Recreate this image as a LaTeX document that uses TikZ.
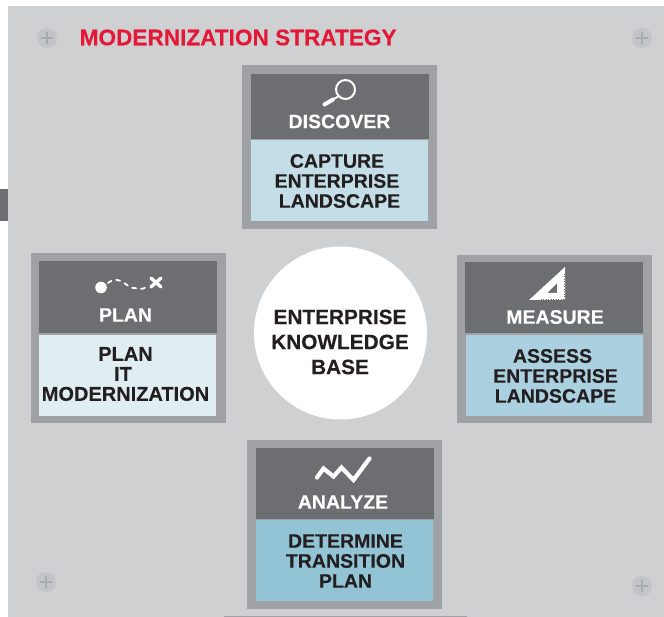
\documentclass[tikz,border=0pt]{standalone}
\usepackage{fontspec}
\setmainfont{Liberation Sans}[BoldFeatures={FakeBold=0.25}]
\definecolor{panelgray}{HTML}{CFD0D2}
\definecolor{framegray}{HTML}{A0A1A5}
\definecolor{headgray}{HTML}{6D6E71}
\definecolor{screwgray}{HTML}{C2C4C8}
\definecolor{plusgray}{HTML}{A5ABB3}
\definecolor{titlered}{HTML}{E31837}
\definecolor{inkblack}{HTML}{231F20}
\definecolor{discoverblue}{HTML}{C3DEE7}
\definecolor{planblue}{HTML}{E0EEF2}
\definecolor{measureblue}{HTML}{ABD0DF}
\definecolor{analyzeblue}{HTML}{92C4D6}
\tikzset{
  cardframe/.style={fill=framegray, anchor=north west, inner sep=0, minimum width=195pt},
  cardhead/.style={fill=headgray, anchor=north west, inner sep=0, minimum width=178pt},
  cardbody/.style={anchor=north west, inner sep=0, minimum width=177pt, minimum height=81pt},
  headlabel/.style={text=white, inner sep=0, font=\fontsize{19.5}{20}\selectfont\bfseries},
  bodylabel/.style={text=inkblack, inner sep=0, align=center, font=\fontsize{19.5}{20}\selectfont\bfseries},
  screw/.style={circle, fill=screwgray, inner sep=0, minimum size=20pt, text=plusgray,
    path picture={\draw[plusgray, line width=2.4pt]
      ([xshift=-6pt]path picture bounding box.center) -- ([xshift=6pt]path picture bounding box.center)
      ([yshift=-6pt]path picture bounding box.center) -- ([yshift=6pt]path picture bounding box.center);}},
  iconline/.style={white, line cap=round, line join=round}
}
\begin{document}
\begin{tikzpicture}[x=1pt, y=-1pt]
  \useasboundingbox (0,0) rectangle (664,617);
  % panel
  \fill[panelgray] (8,6) rectangle (664,617);
  \fill[headgray] (0,189) rectangle (8,221);
  \fill[framegray] (224,616) rectangle (467,617);
  % screws
  \node[screw] (screwa) at (47,38) {};
  \node[screw] (screwb) at (642,38) {};
  \node[screw] (screwc) at (46,582) {};
  \node[screw] (screwd) at (642,586) {};
  \node[text=titlered, inner sep=0, anchor=west, font=\fontsize{22.6}{23}\selectfont\bfseries] (title) at (79.5,37.5) {MODERNIZATION STRATEGY};
  % discover
  \node[cardframe, minimum height=164pt] (discoverframe) at (242,65) {};
  \node[cardhead, minimum height=65pt] (discoverhead) at (251,74) {};
  \node[cardbody, fill=discoverblue] (discoverbody) at (251,140) {};
  \node[headlabel] (discover) at (339.5,121.5) {DISCOVER};
  \node[bodylabel] (capture) at (337,181) {CAPTURE\\ENTERPRISE\\\kern5pt LANDSCAPE};
  \draw[iconline, line width=2pt] (345.5,89.5) circle (9.5);
  \draw[iconline, line width=4pt] (324.5,104.5) -- (333,99.5);
  \draw[iconline, line width=2pt] (333,99.5) -- (339,96);
  % plan
  \node[cardframe, minimum height=170pt] (planframe) at (31,253) {};
  \node[cardhead, minimum height=72pt] (planhead) at (39,261) {};
  \node[cardbody, fill=planblue] (planbody) at (39,335) {};
  \node[headlabel] (plan) at (125.5,315) {PLAN};
  \node[bodylabel, font=\fontsize{20}{20}\selectfont\bfseries] (planit) at (125.5,374) {PLAN\\IT\kern5pt\\MODERNIZATION};
  \fill[white] (101,287.5) circle (5.8);
  \draw[iconline, line width=1.8pt, dash pattern=on 4pt off 5pt] (108,283) .. controls (120,273) and (128,290) .. (135,288) .. controls (140,290) and (146,289) .. (148,285);
  \draw[iconline, line width=3.4pt] (151,278) -- (161,287) (161,278) -- (151,287);
  % measure
  \node[cardframe, minimum height=168pt] (measureframe) at (457,255) {};
  \node[cardhead, minimum height=71pt] (measurehead) at (465,262) {};
  \node[cardbody, fill=measureblue] (measurebody) at (466,335) {};
  \node[headlabel] (measure) at (555,317) {MEASURE};
  \node[bodylabel] (assess) at (555.5,376) {ASSESS\kern6pt\\ENTERPRISE\\LANDSCAPE};
  \fill[white, even odd rule] (529,300) -- (565,267) -- (565,300) -- cycle
    (547,293) -- (557,283) -- (557,293) -- cycle;
  \draw[headgray, line width=0.7pt, dash pattern=on 0.7pt off 1.8pt] (564,274) -- (564,299) -- (540,299);
  % analyze
  \node[cardframe, minimum height=169pt] (analyzeframe) at (247,440) {};
  \node[cardhead, minimum height=71pt] (analyzehead) at (256,448) {};
  \node[cardbody, fill=analyzeblue] (analyzebody) at (256,520) {};
  \node[headlabel] (analyze) at (343,502) {ANALYZE};
  \node[bodylabel] (determine) at (345.5,561) {DETERMINE\\TRANSITION\\PLAN};
  \draw[iconline, line width=4.2pt, line join=miter] (317,477.5) -- (323.5,468.5) -- (333.5,476.5) -- (341.5,467.5) -- (353.5,480) -- (369.5,458.5);
  % centre
  \node[circle, fill=white, inner sep=0, minimum size=173pt] (base) at (340.5,333) {};
  \node[text=inkblack, inner sep=0, align=center, font=\fontsize{20.8}{25}\selectfont\bfseries] (baselabel) at (340,342) {ENTERPRISE\\KNOWLEDGE\\BASE};
\end{tikzpicture}
\end{document}
